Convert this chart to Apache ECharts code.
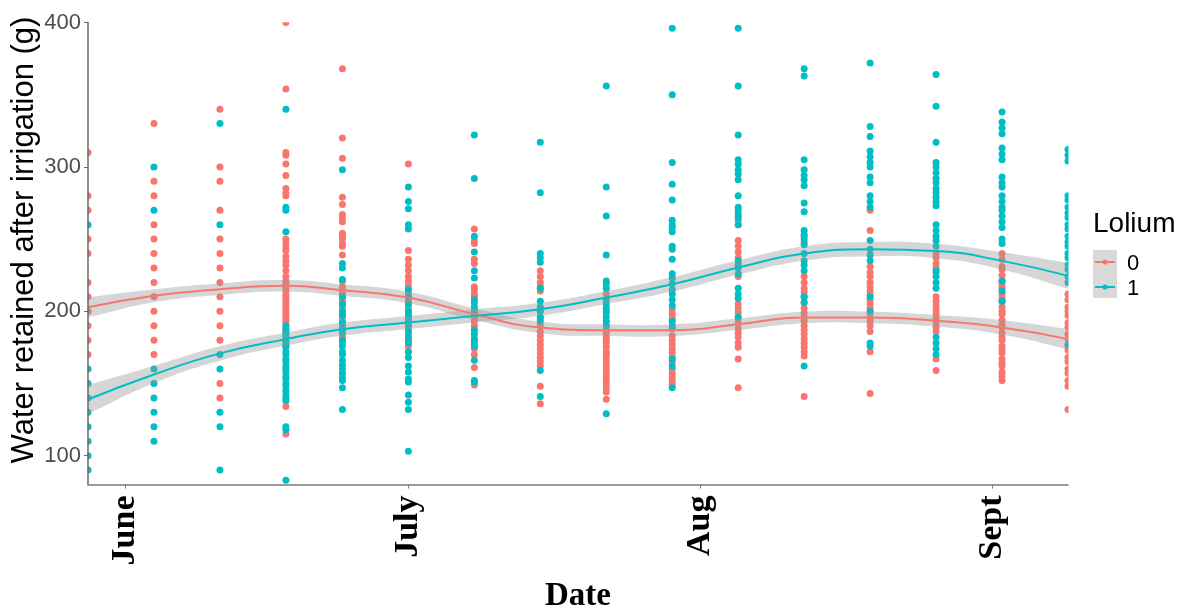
<!DOCTYPE html>
<html><head><meta charset="utf-8">
<script src="https://cdn.jsdelivr.net/npm/echarts@6/dist/echarts.min.js"></script>
<style>html,body{margin:0;padding:0;background:#fff}#c{width:1179px;height:614px}</style>
</head><body><div id="c"></div>
<script>
// ---------- data ----------
const sampleDates = ['2019-05-28','2019-06-04','2019-06-11','2019-06-18','2019-06-24','2019-07-01','2019-07-08','2019-07-15',
  '2019-07-22','2019-07-29','2019-08-05','2019-08-12','2019-08-19','2019-08-26','2019-09-02','2019-09-09'];
const monthTicks = ['2019-06-01','2019-07-01','2019-08-01','2019-09-01'];
const monthLabels = ['June','July','Aug','Sept'];
const yTicks = [100, 200, 300, 400];

// Lolium = 0 (per sampling date)
const water0 = [
  [310,280,270,250,240,220,210,200,190,180,170],
  [330,290,280,260,250,240,230,220,210,200,190,180,170],
  [340,300,290,270,250,240,230,220,210,200,190,180,150,140],
  [400,354,310,308,302,294,285,282,280,250,247,244,242,238,235,232,228,224,221,219,217,215,213,211,209,207,205,203,201,199,197,195,193,191,188,185,182,179,176,134,115],
  [368,320,306,279,274,267,265,262,254,252,250,247,245,239,221,217,214,212,210,207,205,203,200,198,196,193,191,189,186,182,178],
  [302,242,236,232,228,224,221,218,215,212,210,207,205,202,199,196,193,190,187,184,180,176,172],
  [257,249,247,236,233,217,215,212,210,201,198,196,193,190,180,177,174,170,161,149],
  [228,224,220,217,214,200,195,190,186,183,180,177,174,171,168,165,162,148,136],
  [212,200,190,187,185,182,180,178,175,172,170,168,165,162,160,157,155,152,150,147,144,139],
  [201,198,195,183,180,177,174,171,168,165,160,157,154,151,149],
  [263,260,249,245,241,237,224,205,202,199,195,192,188,185,182,178,175,167,147],
  [252,248,224,220,216,213,210,206,202,199,196,193,190,187,184,181,178,175,172,169,141],
  [270,256,231,227,224,220,217,214,211,208,205,202,199,196,193,190,186,172,143],
  [240,237,233,230,227,210,207,204,201,198,195,192,189,186,167,159],
  [240,236,231,229,225,221,218,216,212,209,207,203,200,198,194,191,189,185,182,180,176,173,171,167,164,162,158,155,152],
  [212,208,203,200,197,192,189,184,181,176,173,168,165,160,157,152,148,132]
];
// Lolium = 1
const water1 = [
  [260,160,150,140,130,120,110,100,90],
  [300,270,160,150,140,130,120,110],
  [330,260,170,160,130,120,90],
  [340,272,270,255,190,187,185,183,181,179,177,175,172,170,167,165,162,160,158,155,153,150,148,145,142,140,138,120,118,83],
  [298,233,230,222,210,205,200,197,192,188,185,180,176,172,170,166,163,160,157,154,152,147,132],
  [286,276,271,260,257,215,210,205,200,197,194,190,186,182,178,172,168,162,158,153,151,142,137,132,103],
  [322,292,252,241,228,223,208,206,203,199,187,184,181,178,176,166,152,151],
  [317,282,240,237,234,216,207,203,200,196,193,159,141],
  [356,286,266,239,221,219,216,208,205,202,199,196,193,190,129],
  [396,350,303,288,277,263,260,258,255,245,243,236,226,223,219,215,212,208,204,193,190,188,167,162,147],
  [396,356,322,305,302,298,295,291,280,272,270,267,265,260,235,232,230,226,216,212,209,196],
  [368,363,305,298,294,291,287,275,269,256,253,250,246,240,235,232,228,210,206,162],
  [372,328,321,311,307,303,300,293,289,280,276,272,249,243,239,235,210,200,178,176],
  [364,342,317,303,300,296,292,289,285,282,279,276,273,260,256,252,249,245,228,224,220,216,182,178,174,170],
  [338,331,327,323,313,309,305,293,289,286,280,276,272,270,266,262,258,250,247,221,214,207],
  [312,308,304,280,277,272,268,265,260,257,252,248,245,240,237,232,229,224,220,177]
];
// loess fits and standard-error half widths at each sampling date
const fit0 = [202.7,210.7,215.3,217.6,214.6,209.5,198,188.8,186.9,186.9,191,195.7,195.7,193.4,188.8,180.7];
const se0  = [7,4.5,4,4,4,4,4,4,4,4,4,4,4,4,5,7];
const fit1 = [138.9,156.2,170.8,180.7,187.6,192.2,196.8,201.4,209.5,218.7,230.3,240,243,241.7,234.9,224.5];
const se1  = [10,6,5,4.5,4.5,4.5,4.5,4.5,4.5,5,5,5,5,5,6,9];

// ---------- build ----------
const ts = s => { const p = s.split('-').map(Number); return new Date(p[0], p[1]-1, p[2]).getTime(); };
const C0 = '#F8766D', C1 = '#00BFC4';
const SANS = '"Liberation Sans", Arial, sans-serif';
const SERIF = '"Liberation Serif", "Times New Roman", serif';
const xs = sampleDates.map(ts);
const monthTs = monthTicks.map(ts);
const pts = g => { const out = []; g.forEach((col, i) => col.forEach(v => out.push([xs[i], v]))); return out; };
const line = f => f.map((v, i) => [xs[i], v]);

// same style of bezier smoothing as an ECharts smooth line (smooth = 0.5), sampled
function smoothPts(p, s) {
  const n = p.length, cN = [], cP = [], out = [];
  for (let i = 0; i < n; i++) {
    const prev = p[i > 0 ? i - 1 : i], next = p[i < n - 1 ? i + 1 : i], cur = p[i];
    const vx = next[0] - prev[0], vy = next[1] - prev[1];
    const l0 = Math.hypot(cur[0] - prev[0], cur[1] - prev[1]);
    const l1 = Math.hypot(next[0] - cur[0], next[1] - cur[1]);
    const r = (l0 + l1) > 0 ? l1 / (l0 + l1) : 0;
    cN[i] = [cur[0] + vx * s * r, cur[1] + vy * s * r];
    cP[i] = [cur[0] - vx * s * (1 - r), cur[1] - vy * s * (1 - r)];
  }
  for (let i = 0; i < n - 1; i++) {
    const a = p[i], b = cN[i], c = cP[i + 1], d = p[i + 1];
    for (let k = 0; k < 16; k++) {
      const t = k / 16, u = 1 - t;
      out.push([u*u*u*a[0] + 3*u*u*t*b[0] + 3*u*t*t*c[0] + t*t*t*d[0],
                u*u*u*a[1] + 3*u*u*t*b[1] + 3*u*t*t*c[1] + t*t*t*d[1]]);
    }
  }
  out.push(p[n - 1]);
  return out;
}
function band(fit, se) {
  return {
    type: 'custom', coordinateSystem: 'cartesian2d', z: 3, silent: true, clip: true,
    data: fit.map((v, i) => [xs[i], v]),
    renderItem: (params, api) => {
      if (params.dataIndex !== 0) return null;
      const up = fit.map((v, i) => api.coord([xs[i], v + se[i]]));
      const dn = fit.map((v, i) => api.coord([xs[i], v - se[i]]));
      const poly = smoothPts(up, 0.5).concat(smoothPts(dn, 0.5).reverse());
      return {type: 'polygon', shape: {points: poly}, style: {fill: 'rgba(153,153,153,0.4)'}};
    }
  };
}

const GL = 88, GR = 1068, GT = 22.5, GB = 484.5;
const chart = echarts.init(document.getElementById('c'), null, {renderer: 'canvas'});
chart.setOption({
  animation: false,
  backgroundColor: '#fff',
  grid: {left: GL, right: 1179 - GR, top: GT, bottom: 614 - GB, containLabel: false, outerBoundsMode: 'none'},
  xAxis: {
    type: 'value', min: xs[0], max: xs[xs.length - 1], z: 10,
    splitLine: {show: false},
    axisLine: {lineStyle: {color: '#7a7a7a', width: 1.5}},
    axisTick: {show: true, length: 4, lineStyle: {color: '#7a7a7a'}, customValues: monthTs},
    axisLabel: {
      customValues: monthTs, rotate: 90, margin: 11,
      formatter: v => { const k = monthTs.findIndex(t => Math.abs(t - v) < 1000); return k >= 0 ? monthLabels[k] : ''; },
      fontFamily: SERIF, fontWeight: 'bold', fontSize: 34, color: '#000'
    },
    name: 'Date', nameLocation: 'middle', nameGap: 95,
    nameTextStyle: {fontFamily: SERIF, fontWeight: 'bold', fontSize: 33, color: '#000'}
  },
  yAxis: {
    type: 'value', min: 80, max: 400, z: 10,
    splitLine: {show: false},
    axisLine: {show: true, lineStyle: {color: '#6b6b6b', width: 1.5}},
    axisTick: {show: true, length: 4, lineStyle: {color: '#6b6b6b'}, customValues: yTicks},
    axisLabel: {customValues: yTicks, margin: 7, fontFamily: SANS, fontSize: 22, color: '#4d4d4d'}
  },
  series: [
    {type: 'scatter', data: pts(water0), symbolSize: 7, itemStyle: {color: C0, opacity: 1}, z: 2},
    {type: 'scatter', data: pts(water1), symbolSize: 7, itemStyle: {color: C1, opacity: 1}, z: 2},
    band(fit0, se0),
    band(fit1, se1),
    {type: 'line', data: line(fit0), smooth: true, symbol: 'none', lineStyle: {color: C0, width: 2}, z: 4},
    {type: 'line', data: line(fit1), smooth: true, symbol: 'none', lineStyle: {color: C1, width: 2}, z: 4}
  ],
  graphic: [
    {type: 'rect', z: 5, silent: true, shape: {x: 70, y: 0, width: GL - 70 - 0.5, height: GB + 6}, style: {fill: '#fff'}},
    {type: 'rect', z: 5, silent: true, shape: {x: GR + 0.5, y: 0, width: 20, height: GB + 6}, style: {fill: '#fff'}},
    {type: 'rect', z: 5, silent: true, shape: {x: GL + 1, y: 0, width: GR - GL, height: GT - 0.3}, style: {fill: '#fff'}},
    {type: 'text', x: 24, y: 240, rotation: Math.PI / 2, z: 20,
     style: {text: 'Water retained after irrigation (g)', font: '31px ' + SANS, fill: '#000', textAlign: 'center', textVerticalAlign: 'middle'}},
    {type: 'text', x: 1093, y: 224, z: 20, style: {text: 'Lolium', font: '28px ' + SANS, fill: '#000', textAlign: 'left', textVerticalAlign: 'middle'}},
    {type: 'rect', z: 20, shape: {x: 1093, y: 250, width: 24, height: 48}, style: {fill: '#d9d9d9'}},
    {type: 'line', z: 21, shape: {x1: 1095, y1: 262, x2: 1115, y2: 262}, style: {stroke: C0, lineWidth: 2}},
    {type: 'circle', z: 21, shape: {cx: 1105, cy: 262, r: 2.6}, style: {fill: C0}},
    {type: 'line', z: 21, shape: {x1: 1095, y1: 287, x2: 1115, y2: 287}, style: {stroke: C1, lineWidth: 2}},
    {type: 'circle', z: 21, shape: {cx: 1105, cy: 287, r: 2.6}, style: {fill: C1}},
    {type: 'text', x: 1127, y: 264, z: 20, style: {text: '0', font: '22px ' + SANS, fill: '#000', textAlign: 'left', textVerticalAlign: 'middle'}},
    {type: 'text', x: 1127, y: 289, z: 20, style: {text: '1', font: '22px ' + SANS, fill: '#000', textAlign: 'left', textVerticalAlign: 'middle'}}
  ]
});
</script></body></html>
